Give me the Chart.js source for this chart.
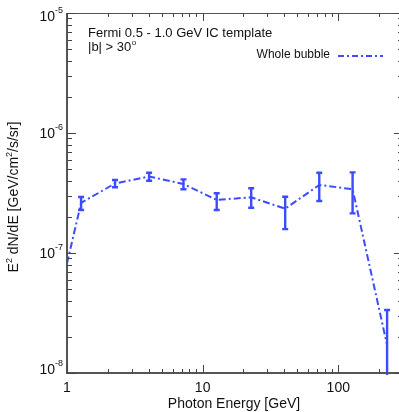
<!DOCTYPE html>
<html><head><meta charset="utf-8">
<script src="https://cdn.jsdelivr.net/npm/chart.js@4"></script>
<style>html,body{margin:0;padding:0;overflow:hidden;background:#fff}#wrap{width:403px;height:412px;position:relative}</style>
</head><body><div id="wrap"><canvas id="c" width="403" height="412"></canvas></div>
<script>
// Data
const energies = [1.0, 1.27, 2.26, 4.03, 7.22, 12.7, 22.8, 40.6, 72.4, 127.5, 229];
const flux     = [8.2e-8, 2.61e-7, 3.80e-7, 4.34e-7, 3.76e-7, 2.77e-7, 2.91e-7, 2.34e-7, 3.69e-7, 3.40e-7, 1.71e-8];
const errLow   = [null, 2.28e-7, 3.53e-7, 4.00e-7, 3.40e-7, 2.28e-7, 2.38e-7, 1.58e-7, 2.71e-7, 2.14e-7, 1e-9];
const errHigh  = [null, 2.93e-7, 4.06e-7, 4.67e-7, 4.11e-7, 3.15e-7, 3.46e-7, 2.94e-7, 4.67e-7, 4.70e-7, 3.35e-8];
const xTickLabels = ["1", "10", "100"];
const xTickValues = [1, 10, 100];
const yTickExps = [-5, -6, -7, -8];
const seriesName = "Whole bubble";
const titleLine1 = "Fermi 0.5 - 1.0 GeV IC template";
const titleLine2 = "|b| > 30";

const BLUE = '#3b4cff';
const AXIS = '#555';
const FONT = '"Liberation Sans", Arial, Helvetica, sans-serif';

const plugin = {
  id: 'custom',
  afterDatasetsDraw(chart) {
    const ctx = chart.ctx, xs = chart.scales.x, ys = chart.scales.y, a = chart.chartArea;
    ctx.save();
    ctx.beginPath(); ctx.rect(a.left, a.top, a.right - a.left, a.bottom - a.top + 2); ctx.clip();
    ctx.strokeStyle = BLUE; ctx.lineWidth = 2.4;
    for (let i = 0; i < energies.length; i++) {
      if (errLow[i] == null) continue;
      const px = xs.getPixelForValue(energies[i]);
      const y1 = ys.getPixelForValue(errHigh[i]);
      const y2 = ys.getPixelForValue(errLow[i]);
      ctx.beginPath();
      ctx.moveTo(px, y1); ctx.lineTo(px, y2);
      ctx.moveTo(px - 3, y1); ctx.lineTo(px + 3, y1);
      ctx.moveTo(px - 3, y2); ctx.lineTo(px + 3, y2);
      ctx.stroke();
    }
    ctx.restore();
  },
  afterDraw(chart) {
    const ctx = chart.ctx, xs = chart.scales.x, ys = chart.scales.y, a = chart.chartArea;
    ctx.save();
    // frame
    ctx.strokeStyle = AXIS;
    ctx.lineWidth = 2;
    ctx.beginPath();
    ctx.moveTo(a.left, a.top); ctx.lineTo(a.left, a.bottom); ctx.lineTo(a.right, a.bottom);
    ctx.stroke();
    ctx.lineWidth = 1.2;
    ctx.beginPath();
    ctx.moveTo(a.left, a.top + 0.5); ctx.lineTo(a.right, a.top + 0.5); ctx.lineTo(a.right - 0.5, a.bottom);
    ctx.stroke();
    // ticks
    ctx.lineWidth = 1;
    ctx.strokeStyle = '#444';
    ctx.beginPath();
    for (let d = 1; d <= 100; d *= 10) {
      for (let m = 1; m <= 9; m++) {
        const v = d * m;
        if (v > xs.max) break;
        const px = Math.round(xs.getPixelForValue(v)) + 0.5;
        const len = m === 1 ? 8 : 4;
        ctx.moveTo(px, a.bottom); ctx.lineTo(px, a.bottom - len);
        ctx.moveTo(px, a.top); ctx.lineTo(px, a.top + len);
      }
    }
    for (let e = -8; e <= -5; e++) {
      for (let m = 1; m <= 9; m++) {
        const v = m * Math.pow(10, e);
        if (v > ys.max * 1.0001) break;
        const py = Math.round(ys.getPixelForValue(v)) + 0.5;
        const len = m === 1 ? 9 : 5;
        ctx.moveTo(a.left, py); ctx.lineTo(a.left + len, py);
        ctx.moveTo(a.right, py); ctx.lineTo(a.right - len, py);
      }
    }
    ctx.stroke();
    // x tick labels
    ctx.fillStyle = '#111';
    ctx.font = '14px ' + FONT;
    ctx.textAlign = 'center'; ctx.textBaseline = 'middle';
    xTickValues.forEach((v, i) => ctx.fillText(xTickLabels[i], xs.getPixelForValue(v), a.bottom + 15));
    // y tick labels with superscript
    yTickExps.forEach(e => {
      let py = ys.getPixelForValue(Math.pow(10, e));
      if (e === -8) py -= 4;
      if (e === -5) py += 3;
      ctx.textAlign = 'right'; ctx.textBaseline = 'middle';
      const sup = String(e);
      ctx.font = '9px ' + FONT;
      const sw = ctx.measureText(sup).width;
      ctx.fillText(sup, a.left - 4, py - 5);
      ctx.font = '14px ' + FONT;
      ctx.fillText('10', a.left - 4 - sw, py + 1);
    });
    // axis titles
    ctx.font = '14px ' + FONT;
    ctx.textAlign = 'center'; ctx.textBaseline = 'alphabetic';
    ctx.fillText('Photon Energy [GeV]', 234, 408);
    ctx.save();
    ctx.translate(18, 197);
    ctx.rotate(-Math.PI / 2);
    ctx.textAlign = 'left';
    const parts = [['E', 14, 0], ['2', 9, -6], [' dN/dE [GeV/cm', 14, 0], ['2', 9, -6], ['/s/sr]', 14, 0]];
    let tw = 0;
    parts.forEach(p => { ctx.font = p[1] + 'px ' + FONT; tw += ctx.measureText(p[0]).width; });
    let x0 = -tw / 2;
    parts.forEach(p => { ctx.font = p[1] + 'px ' + FONT; ctx.fillText(p[0], x0, p[2]); x0 += ctx.measureText(p[0]).width; });
    ctx.restore();
    // annotation
    ctx.font = '13px ' + FONT;
    ctx.textAlign = 'left'; ctx.textBaseline = 'alphabetic';
    ctx.fillText(titleLine1, 88, 37);
    ctx.fillText(titleLine2, 88, 51);
    const w2 = ctx.measureText(titleLine2).width;
    ctx.font = '8px ' + FONT;
    ctx.fillText('o', 88 + w2 + 0.5, 45);
    // legend
    ctx.font = '12px ' + FONT;
    ctx.textAlign = 'right'; ctx.textBaseline = 'middle';
    ctx.fillText(seriesName, 330, 55);
    ctx.strokeStyle = BLUE; ctx.lineWidth = 1.8;
    ctx.setLineDash([6, 3, 2, 3]);
    ctx.beginPath(); ctx.moveTo(338, 56); ctx.lineTo(383, 56); ctx.stroke();
    ctx.restore();
  }
};

new Chart(document.getElementById('c'), {
  type: 'line',
  data: {
    datasets: [{
      label: seriesName,
      data: energies.map((e, i) => ({ x: e, y: flux[i] })),
      borderColor: BLUE,
      borderWidth: 2,
      borderDash: [7, 3, 2, 3],
      pointRadius: 0,
      fill: false,
      tension: 0
    }]
  },
  options: {
    responsive: false,
    animation: false,
    devicePixelRatio: 1,
    layout: { padding: { top: 13, left: 0, right: 0, bottom: 0 } },
    plugins: { legend: { display: false }, tooltip: { enabled: false } },
    scales: {
      x: {
        type: 'logarithmic', min: 1, max: 300,
        grid: { display: false }, border: { display: false },
        ticks: { display: false },
        afterFit: s => { s.height = 39; }
      },
      y: {
        type: 'logarithmic', min: 1e-8, max: 1e-5,
        grid: { display: false }, border: { display: false },
        ticks: { display: false },
        afterFit: s => { s.width = 67; }
      }
    }
  },
  plugins: [plugin]
});
</script>
</body></html>
